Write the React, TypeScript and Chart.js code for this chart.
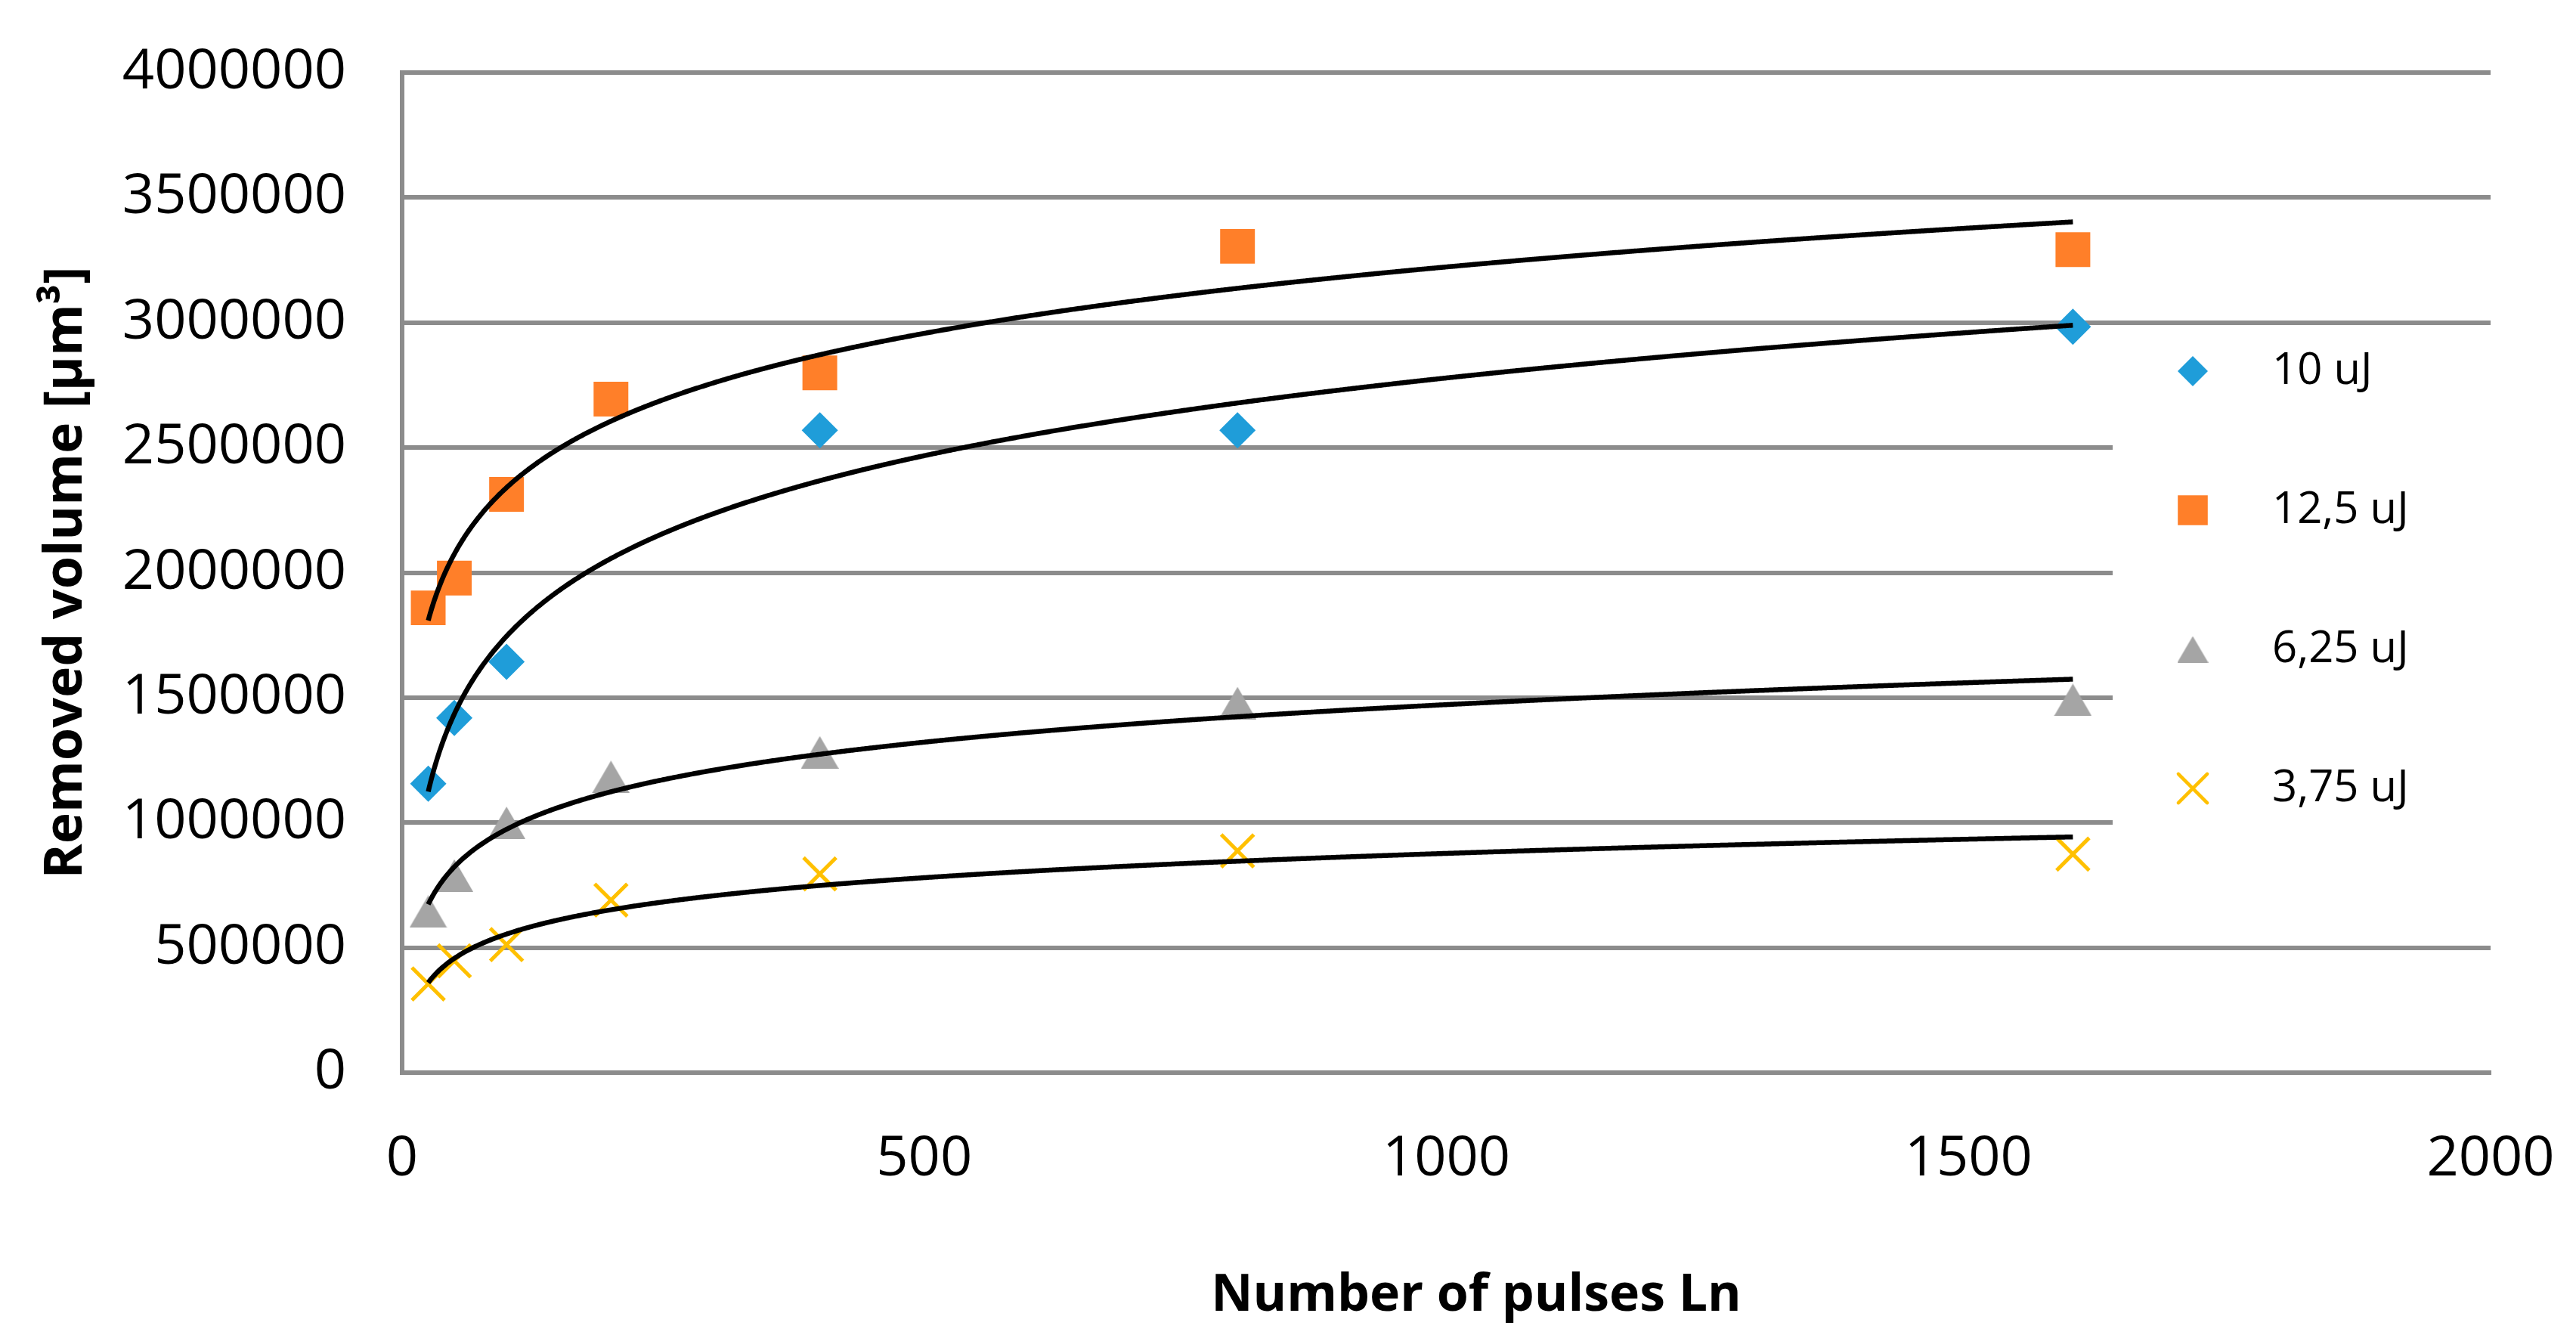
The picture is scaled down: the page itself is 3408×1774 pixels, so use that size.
import React, { useEffect, useRef } from 'react';
import { Chart, registerables } from 'chart.js';
import { drawPoint } from 'chart.js/helpers';

Chart.register(...registerables);

// ---------------- data ----------------
const pulses10uJ = [25, 50, 100, 400, 800, 1600];
const volume10uJ = [1156000, 1419000, 1643000, 2569000, 2569000, 2983000];

const pulses = [25, 50, 100, 200, 400, 800, 1600];
const volume12_5uJ = [1859000, 1978000, 2313000, 2694000, 2799000, 3305000, 3292000];
const volume6_25uJ = [644000, 788000, 999000, 1183000, 1281000, 1478000, 1491000];
const volume3_75uJ = [355000, 447000, 512000, 690000, 795000, 887000, 874000];

const seriesNames = ['10 uJ', '12,5 uJ', '6,25 uJ', '3,75 uJ'];
const xTickValues = [0, 500, 1000, 1500, 2000];
const yTickValues = [0, 500000, 1000000, 1500000, 2000000, 2500000, 3000000, 3500000, 4000000];
const xAxisTitle = 'Number of pulses Ln';
const yAxisTitle = 'Removed volume [µm³]';

// ---------------- style ----------------
const W = 3408;
const H = 1774;
const FONT = "'Open Sans', 'DejaVu Sans', sans-serif";
const GRID = '#8c8c8c';
const BLUE = '#1f9dd9';
const ORANGE = '#ff7f29';
const GRAY = '#a5a5a5';
const YELLOW = '#ffc000';

function logFit(pts: { x: number; y: number }[]) {
  const n = pts.length;
  const lx = pts.map((p) => Math.log(p.x));
  const mx = lx.reduce((s, v) => s + v, 0) / n;
  const my = pts.reduce((s, p) => s + p.y, 0) / n;
  let sxy = 0;
  let sxx = 0;
  for (let i = 0; i < n; i++) {
    sxy += (lx[i] - mx) * (pts[i].y - my);
    sxx += (lx[i] - mx) * (lx[i] - mx);
  }
  const b = sxy / sxx;
  return { a: my - b * mx, b };
}

function triangleImage(w: number, h: number, color: string) {
  const c = document.createElement('canvas');
  c.width = w;
  c.height = h;
  const g = c.getContext('2d')!;
  g.fillStyle = color;
  g.beginPath();
  g.moveTo(w / 2, 0);
  g.lineTo(w, h);
  g.lineTo(0, h);
  g.closePath();
  g.fill();
  return c;
}

function noAutoPadding(s: any) {
  s.paddingTop = 0;
  s.paddingBottom = 0;
  s.paddingLeft = 0;
  s.paddingRight = 0;
}

export default function App() {
  const ref = useRef<HTMLCanvasElement>(null);

  useEffect(() => {
    const canvas = ref.current!;
    const triPlot = triangleImage(50, 43, GRAY);
    const triLegend = triangleImage(41, 35, GRAY);

    const legendMarkers: any[] = [
      { pointStyle: 'rectRot', radius: 20, borderWidth: 0, color: BLUE },
      { pointStyle: 'rect', radius: 28, borderWidth: 0, color: ORANGE },
      { pointStyle: triLegend, radius: 17, borderWidth: 0, color: GRAY },
      { pointStyle: 'crossRot', radius: 27, borderWidth: 4.5, color: YELLOW },
    ];

    const overlay = {
      id: 'overlay',
      afterDatasetsDraw(chart: any) {
        const ctx = chart.ctx as CanvasRenderingContext2D;
        const xs = chart.scales.x;
        const ys = chart.scales.y;
        chart.data.datasets.forEach((ds: any) => {
          const pts = ds.data as { x: number; y: number }[];
          const { a, b } = logFit(pts);
          const x0 = Math.min(...pts.map((p) => p.x));
          const x1 = Math.max(...pts.map((p) => p.x));
          const p0 = xs.getPixelForValue(x0);
          const p1 = xs.getPixelForValue(x1);
          ctx.save();
          ctx.beginPath();
          ctx.strokeStyle = '#000';
          ctx.lineWidth = 6.5;
          ctx.lineJoin = 'round';
          let first = true;
          for (let px = p0; ; px += 1.5) {
            const cp = Math.min(px, p1);
            const xv = xs.getValueForPixel(cp);
            const py = ys.getPixelForValue(a + b * Math.log(xv));
            if (first) {
              ctx.moveTo(cp, py);
              first = false;
            } else ctx.lineTo(cp, py);
            if (cp >= p1) break;
          }
          ctx.stroke();
          ctx.restore();
        });
      },
      afterDraw(chart: any) {
        const ctx = chart.ctx as CanvasRenderingContext2D;
        // legend (overlapping the plot area, white background)
        ctx.save();
        ctx.fillStyle = '#ffffff';
        ctx.fillRect(2795, 440, 540, 765);
        chart.data.datasets.forEach((ds: any, i: number) => {
          const m = legendMarkers[i];
          const y = 491 + i * 184;
          ctx.fillStyle = m.color;
          ctx.strokeStyle = m.color;
          ctx.lineWidth = m.borderWidth;
          ctx.lineCap = 'round';
          drawPoint(ctx, { pointStyle: m.pointStyle, radius: m.radius, rotation: 0, borderWidth: m.borderWidth } as any, 2901, y);
          ctx.fillStyle = '#000';
          ctx.font = `58px ${FONT}`;
          ctx.textAlign = 'left';
          ctx.textBaseline = 'middle';
          ctx.fillText(ds.label, 3006, y);
        });
        // x axis title
        ctx.font = `bold 68px ${FONT}`;
        ctx.fillStyle = '#000';
        ctx.textAlign = 'center';
        ctx.textBaseline = 'alphabetic';
        ctx.fillText(xAxisTitle, 1953, 1734);
        ctx.restore();
      },
    };

    const tickFont = { family: FONT, size: 74 };

    const chart = new Chart(canvas, {
      type: 'scatter',
      data: {
        datasets: [
          {
            label: seriesNames[0],
            data: pulses10uJ.map((x, i) => ({ x, y: volume10uJ[i] })),
            pointStyle: 'rectRot',
            pointRadius: 24,
            backgroundColor: BLUE,
            borderColor: BLUE,
            borderWidth: 0,
          },
          {
            label: seriesNames[1],
            data: pulses.map((x, i) => ({ x, y: volume12_5uJ[i] })),
            pointStyle: 'rect',
            pointRadius: 32.5,
            backgroundColor: ORANGE,
            borderColor: ORANGE,
            borderWidth: 0,
          },
          {
            label: seriesNames[2],
            data: pulses.map((x, i) => ({ x, y: volume6_25uJ[i] })),
            pointStyle: triPlot as any,
            pointRadius: 25,
            backgroundColor: GRAY,
            borderColor: GRAY,
            borderWidth: 0,
          },
          {
            label: seriesNames[3],
            data: pulses.map((x, i) => ({ x, y: volume3_75uJ[i] })),
            pointStyle: 'crossRot',
            pointRadius: 30.5,
            backgroundColor: YELLOW,
            borderColor: YELLOW,
            borderWidth: 5,
          },
        ] as any,
      },
      options: {
        responsive: false,
        animation: false,
        devicePixelRatio: 1,
        layout: { padding: { left: 0, top: 96, right: 113, bottom: 0 } },
        plugins: {
          legend: { display: false },
          tooltip: { enabled: false },
        },
        scales: {
          x: {
            type: 'linear',
            min: 0,
            max: 2000,
            afterBuildTicks: (s: any) => {
              s.ticks = xTickValues.map((v) => ({ value: v }));
            },
            afterFit: (s: any) => {
              s.height = 355;
              noAutoPadding(s);
            },
            ticks: {
              font: tickFont,
              color: '#000',
              padding: 71,
              maxRotation: 0,
              autoSkip: false,
              callback: (v: any) => String(v),
            },
            grid: { display: false, drawTicks: false },
            border: { display: true, color: GRID, width: 6 },
          },
          y: {
            min: 0,
            max: 4000000,
            afterBuildTicks: (s: any) => {
              s.ticks = yTickValues.map((v) => ({ value: v }));
            },
            afterFit: (s: any) => {
              s.width = 532;
              noAutoPadding(s);
            },
            ticks: {
              font: tickFont,
              color: '#000',
              padding: 74,
              autoSkip: false,
              callback: (v: any) => String(v),
            },
            grid: { color: GRID, lineWidth: 6, drawTicks: false },
            border: { display: true, color: GRID, width: 6 },
            title: {
              display: true,
              text: yAxisTitle,
              color: '#000',
              font: { family: FONT, size: 70, weight: 'bold' },
              padding: { top: 46, bottom: 0 },
            },
          },
        },
      } as any,
      plugins: [overlay],
    });

    return () => chart.destroy();
  }, []);

  return (
    <div style={{ position: 'fixed', left: 0, top: 0, width: W, height: H, background: '#ffffff' }}>
      <canvas ref={ref} width={W} height={H} style={{ width: `${W}px`, height: `${H}px`, display: 'block' }} />
    </div>
  );
}
